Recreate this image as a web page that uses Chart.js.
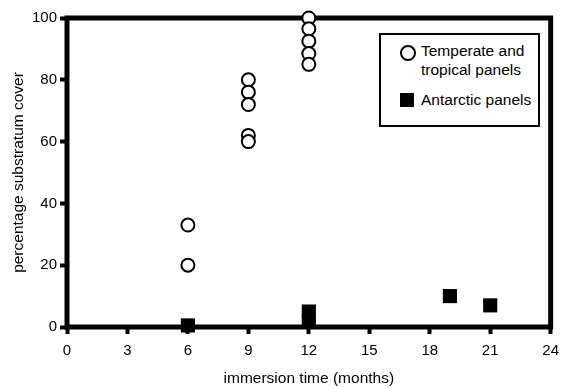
<!DOCTYPE html>
<html>
<head>
<meta charset="utf-8">
<script src="https://cdn.jsdelivr.net/npm/chart.js@4.4.0/dist/chart.umd.min.js"></script>
<style>
  body { margin: 0; background: #fff; }
  #wrap { position: relative; width: 567px; height: 388px; }
  #legenda {
    position: absolute; left: 379px; top: 33px; width: 157px; height: 90px;
    border: 2px solid #000; background: #fff;
    font-family: "Liberation Sans", Arial, sans-serif; font-size: 15.5px; color: #000;
  }
  .item { position: absolute; left: 40px; line-height: 19px; }
  .circ { position: absolute; left: 19px; top: 10px; width: 12px; height: 12px; border: 2px solid #000; border-radius: 50%; }
  .quad { position: absolute; left: 19px; top: 58px; width: 14px; height: 14px; background: #000; }
</style>
</head>
<body>
<div id="wrap">
  <canvas id="grafico" width="567" height="388"></canvas>
  <div id="legenda">
    <div class="circ"></div>
    <div class="item" style="top:6px">Temperate and<br>tropical panels</div>
    <div class="quad"></div>
    <div class="item" style="top:55px">Antarctic panels</div>
  </div>
</div>
<script>
// dados
const mesesTemperado = [6, 6, 9, 9, 9, 9, 9, 12, 12, 12, 12, 12];
const coberturaTemperado = [33, 20, 80, 76, 72, 62, 60, 100, 96.5, 92.5, 88.5, 85];
const mesesAntartico = [6, 12, 12, 19, 21];
const coberturaAntartico = [0.5, 5, 2, 10, 7];
const ticksX = [0, 3, 6, 9, 12, 15, 18, 21, 24];
const ticksY = [0, 20, 40, 60, 80, 100];

function pontos(xs, ys) {
  var lista = [];
  for (var i = 0; i < xs.length; i++) {
    lista.push({ x: xs[i], y: ys[i] });
  }
  return lista;
}

// moldura grossa em volta da area do grafico
const moldura = {
  id: 'moldura',
  beforeDatasetsDraw(chart) {
    const a = chart.chartArea;
    const ctx = chart.ctx;
    ctx.save();
    ctx.strokeStyle = '#000';
    ctx.lineWidth = 5;
    ctx.strokeRect(a.left, a.top, a.right - a.left, a.bottom - a.top);
    ctx.restore();
  }
};

const fonteTicks = { family: '"Liberation Sans", Arial, sans-serif', size: 15 };
const fonteTitulo = { family: '"Liberation Sans", Arial, sans-serif', size: 15.5 };

const config = {
  type: 'scatter',
  data: {
    datasets: [{
      label: 'Antarctic panels',
      data: pontos(mesesAntartico, coberturaAntartico),
      pointStyle: 'rect',
      pointRadius: 10,
      backgroundColor: '#000',
      borderColor: '#000',
      borderWidth: 0,
      clip: false
    }, {
      label: 'Temperate and tropical panels',
      data: pontos(mesesTemperado, coberturaTemperado),
      pointStyle: 'circle',
      pointRadius: 6.5,
      backgroundColor: '#fff',
      borderColor: '#000',
      borderWidth: 2,
      clip: false
    }]
  },
  options: {
    responsive: false,
    animation: false,
    layout: { padding: { top: 18, right: 13, left: 0, bottom: 0 } },
    plugins: { legend: { display: false }, tooltip: { enabled: false } },
    scales: {
      x: {
        type: 'linear', min: 0, max: 24,
        afterBuildTicks: s => { s.ticks = ticksX.map(v => ({ value: v })); },
        afterFit: s => { s.height = 61; },
        grid: { drawOnChartArea: false, tickLength: 7, tickWidth: 4, tickColor: '#000' },
        border: { display: false },
        ticks: { color: '#000', font: fonteTicks, padding: 8, maxRotation: 0 },
        title: { display: true, text: 'immersion time (months)', color: '#000', font: fonteTitulo, padding: { top: 0, bottom: 0 } }
      },
      y: {
        min: 0, max: 100,
        afterBuildTicks: s => { s.ticks = ticksY.map(v => ({ value: v })); },
        afterFit: s => { s.width = 67; },
        grid: { drawOnChartArea: false, tickLength: 7, tickWidth: 4, tickColor: '#000' },
        border: { display: false },
        ticks: { color: '#000', font: fonteTicks, padding: 3 },
        title: { display: true, text: 'percentage substratum cover', color: '#000', font: fonteTitulo, padding: { top: 9, bottom: 0 } }
      }
    }
  },
  plugins: [moldura]
};

const ctx = document.getElementById('grafico').getContext('2d');
const grafico = new Chart(ctx, config);
</script>
</body>
</html>
